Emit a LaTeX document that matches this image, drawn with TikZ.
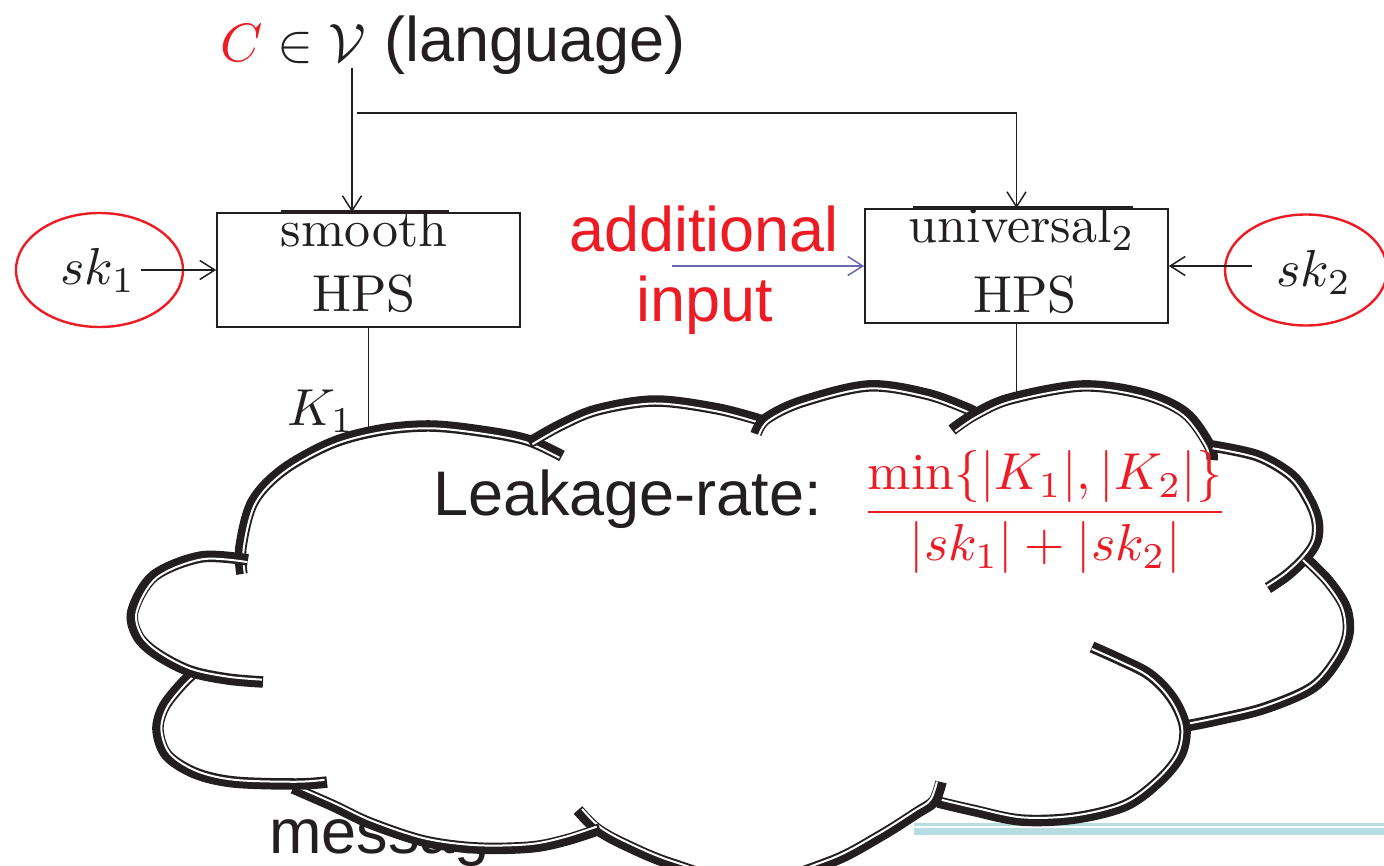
\documentclass[tikz,border=0pt]{standalone}
\usepackage{fontspec}
\setsansfont{Liberation Sans}
\usetikzlibrary{arrows.meta,shapes.geometric}

\definecolor{keyred}{RGB}{237,28,36}
\definecolor{inblue}{RGB}{104,104,176}
\definecolor{slidecyan}{RGB}{183,221,225}
\definecolor{ink}{RGB}{35,31,32}

% one bump of the cloud: #1 centre for the inner stripe, #2 shrink factor, #3 points
\newcommand\cloudbump[3]{}
\newcommand\bumpfill[3]{\fill[white] (cc) -- plot[smooth,tension=0.55] coordinates {#3} -- cycle;}
\newcommand\bumpedge[3]{%
  \draw[cloudedge] plot[smooth,tension=0.55] coordinates {#3};
  \draw[cloudgap, scale around={#2:#1}] plot[smooth,tension=0.55] coordinates {#3};}

\newcommand\cloudparts{%
  \cloudbump{(410,560)}{0.983}{(242,574) (241,547) (253,502) (283,470) (332,443) (381,430) (430,426) (480,431) (527,440) (562,456)}
  \cloudbump{(648,490)}{0.972}{(529,443) (559,426) (597,410) (655,401) (718,409) (763,421)}
  \cloudbump{(865,480)}{0.973}{(756,434) (766,419) (801,402) (868,386) (926,394) (968,409) (976,414)}
  \cloudbump{(1085,490)}{0.975}{(952,430) (974,415) (1010,399) (1082,386) (1143,394) (1185,413) (1209,445) (1212,460)}
  \cloudbump{(1230,520)}{0.969}{(1212,446) (1258,456) (1292,476) (1309,500) (1317,521) (1316,541) (1305,558) (1287,575) (1268,588)}
  \cloudbump{(1230,640)}{0.974}{(1305,558) (1328,581) (1345,607) (1348,633) (1338,658) (1313,687) (1265,708) (1216,720) (1186,726)}
  \cloudbump{(1080,720)}{0.974}{(938,802) (972,810) (1021,820) (1075,818) (1126,805) (1160,780) (1180,755) (1185,730) (1178,708) (1165,689) (1147,673) (1121,660) (1092,647)}
  \cloudbump{(760,760)}{0.978}{(578,810) (597,829) (626,845) (672,864) (750,884) (830,862) (880,836) (918,812) (934,801) (941,782)}
  \cloudbump{(450,720)}{0.978}{(293,788) (334,806) (370,823) (424,841) (477,848) (531,847) (566,840) (600,829)}
  \cloudbump{(255,720)}{0.965}{(197,670) (182,684) (164,707) (158,730) (167,755) (195,773) (234,782) (297,784) (327,782)}
  \cloudbump{(235,618)}{0.963}{(248,560) (201,557) (154,576) (133,611) (138,636) (157,654) (190,671) (228,679) (263,682)}
}

\tikzset{
  hpsbox/.style={draw=ink, line width=1.6, minimum width=303, minimum height=114, inner sep=0},
  keyoval/.style={draw=keyred, line width=2.4, ellipse, inner sep=0},
  conn/.style={draw=ink, line width=1.5},
  arr/.style={conn, -{Straight Barb[length=15,width=19]}},
  lbl/.style={inner sep=0, text=ink},
  serifbig/.style={lbl, scale=5.2},
  sansbig/.style={lbl, scale=6.3, font=\sffamily},
  cloudedge/.style={draw=ink, line width=11.5, line cap=butt, line join=round},
  cloudgap/.style={draw=white, line width=2, line cap=butt},
}

\begin{document}
\begin{tikzpicture}[x=1pt,y=-1pt]
\useasboundingbox (0,0) rectangle (1384,866);
\fill[white] (0,0) rectangle (1384,866);

% language label
\node[lbl, scale=5.4, anchor=base west] (lang) at (219,62)
  {$\textcolor{keyred}{C}\in\mathcal{V}$\ {\sffamily\fontsize{11.67}{13}\selectfont(language)}};

% hash proof systems
\node[hpsbox] (smooth) at (368.5,270) {};
\node[hpsbox] (univ) at (1016.5,266) {};
\draw[ink, line width=3.5] ([xshift=-88]smooth.north) -- ([xshift=80]smooth.north);
\draw[ink, line width=3.5] ([xshift=-104]univ.north) -- ([xshift=116]univ.north);
\node[serifbig, anchor=base] (smoothA) at (364,247) {smooth};
\node[serifbig, anchor=base] (smoothB) at (364,312) {HPS};
\node[serifbig, anchor=base] (univA) at (1022,243) {universal$_2$};
\node[serifbig, anchor=base] (univB) at (1025,313) {HPS};

% secret keys
\node[keyoval, minimum width=167, minimum height=114] (sk1) at (99.5,270) {};
\node[serifbig, anchor=base] (sk1t) at (98,285) {$sk_1$};
\node[keyoval, minimum width=162, minimum height=111] (sk2) at (1306,270) {};
\node[serifbig, anchor=base] (sk2t) at (1314,287) {$sk_2$};

% connectors
\coordinate (cstem) at (352,68);
\coordinate (csplit) at (357,113);
\coordinate (sk2out) at (1252,266);
\coordinate (addin) at (672,266);
\draw[arr] (cstem) -- (cstem |- smooth.north);
\draw[arr] (csplit) -| (univ.north);
\draw[arr] ([xshift=41]sk1.center) -- (smooth.west);
\draw[arr] (sk2out) -- (univ.east);
\draw[arr, draw=inblue] (addin) -- (univ.west);
\draw[conn] (smooth.south) -- ++(0,130);
\draw[conn] (univ.south) -- ++(0,90);

\node[serifbig, anchor=base west] (k1) at (286,425) {$K_1$};
\node[sansbig, anchor=base, text=keyred] (addA) at (704,252) {additional};
\node[sansbig, anchor=base, text=keyred] (addB) at (705,322) {input};

% text partly hidden behind the cloud, and the slide rule
\node[sansbig, anchor=base west] (msg) at (268,853) {message};
\coordinate (rulestart) at (914,831.5);
\draw[slidecyan, line width=6.5] (rulestart) -- ++(470,0);
\draw[slidecyan, line width=2.3] ([yshift=7]rulestart) -- ++(470,0);

% cloud
\coordinate (cc) at (750,620);
\let\cloudbump\bumpfill
\cloudparts
\let\cloudbump\bumpedge
\cloudparts

\node[sansbig, anchor=base west] (leak) at (432,515) {Leakage-rate:};
\node[serifbig, anchor=base, text=keyred] (rate) at (1045,525)
  {$\displaystyle\frac{\min\{|K_1|,|K_2|\}}{|sk_1|+|sk_2|}$};
\end{tikzpicture}
\end{document}
